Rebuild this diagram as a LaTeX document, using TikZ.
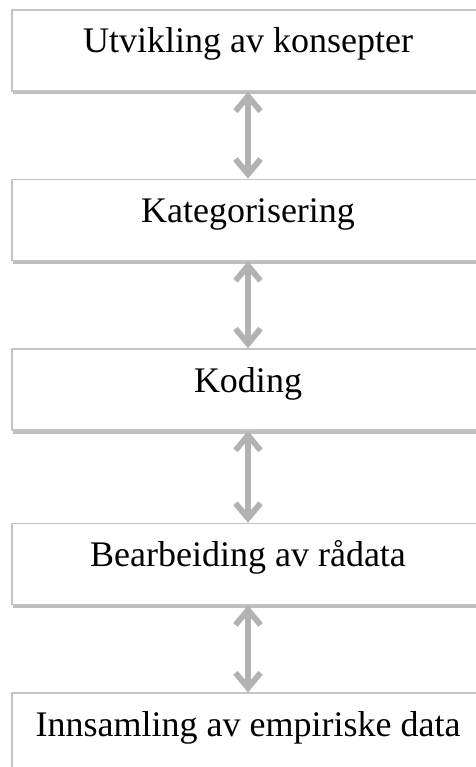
\documentclass[tikz,border=0pt]{standalone}
\usepackage{fontspec}
\setmainfont{Liberation Serif}
\usetikzlibrary{positioning,shadows,arrows.meta}

\definecolor{boxgray}{HTML}{C4C4C4}
\definecolor{arrowgray}{HTML}{B2B2B2}

\tikzset{
  stage/.style={draw=boxgray, line width=0.8pt, fill=white, minimum width=236pt,
    inner sep=0pt, text height=21.5pt, text depth=19pt,
    font=\fontsize{18}{21}\selectfont,
    drop shadow={shadow xshift=0.6pt, shadow yshift=-1.8pt, opacity=0.5}},
  link/.style={{Straight Barb[length=7.5pt,width=12.5pt]}-{Straight Barb[length=7.5pt,width=12.5pt]},
    line width=2.9pt, draw=arrowgray, line cap=round}
}

\begin{document}
\begin{tikzpicture}[node distance=43.5pt]
\path[use as bounding box, clip] (0,0) rectangle (238pt,-383.5pt);

\node[stage, anchor=north] (konsept) at (124pt,-4.5pt) {Utvikling av konsepter};
\node[stage, below=of konsept] (kategori) {Kategorisering};
\node[stage, below=of kategori] (koding) {Koding};
\node[stage, below=46pt of koding] (raadata) {Bearbeiding av rådata};
\node[stage, below=of raadata] (innsamling) {Innsamling av empiriske data};

% toveis piler mellom trinnene
\foreach \a/\b in {konsept/kategori, kategori/koding, koding/raadata, raadata/innsamling}
  \draw[link] (\a.south) -- (\b.north);
\end{tikzpicture}
\end{document}
